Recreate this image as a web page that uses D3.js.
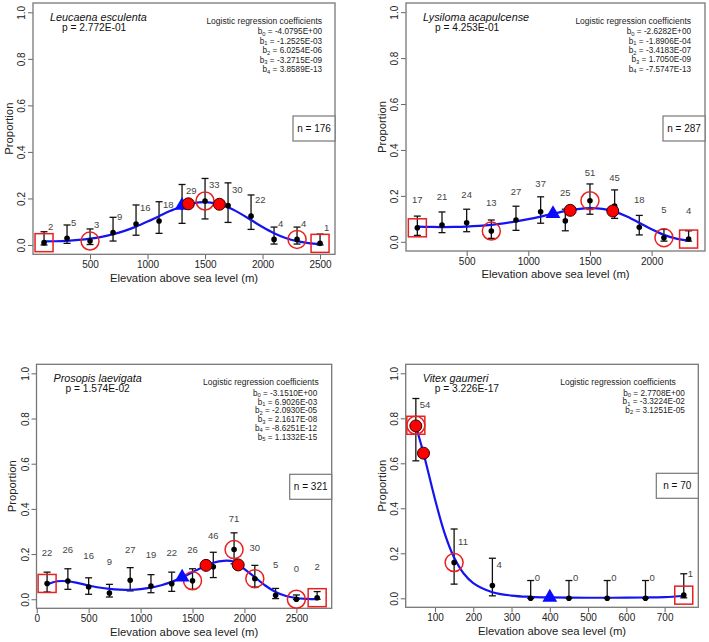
<!DOCTYPE html>
<html>
<head>
<meta charset="utf-8">
<script src="https://cdn.jsdelivr.net/npm/d3@7"></script>
<style>
  body { margin: 0; background: #fff; }
  svg { font-family: "Liberation Sans", Arial, sans-serif; }
</style>
</head>
<body>
<svg id="chart" width="709" height="642"></svg>
<script>
// ---- Leucaena esculenta ----
const leucaenaElev = [100, 300, 500, 700, 900, 1100, 1300, 1500, 1700, 1900, 2100, 2300, 2500];
const leucaenaProp = [0.010, 0.029, 0.017, 0.053, 0.090, 0.103, 0.165, 0.189, 0.169, 0.124, 0.024, 0.024, 0.007];
const leucaenaLow = [0.0, 0.007, 0.002, 0.017, 0.042, 0.050, 0.093, 0.112, 0.097, 0.067, 0.004, 0.004, 0.0];
const leucaenaHigh = [0.057, 0.086, 0.069, 0.119, 0.172, 0.186, 0.260, 0.286, 0.267, 0.215, 0.077, 0.077, 0.047];
const leucaenaN = [2, 5, 3, 9, 16, 18, 29, 33, 30, 22, 4, 4, 1];
const leucaenaCurveX = [100, 200, 300, 400, 500, 600, 700, 800, 900, 1000, 1100, 1200, 1300, 1400, 1500, 1600, 1700, 1800, 1900, 2000, 2100, 2200, 2300, 2400, 2500];
const leucaenaCurveY = [0.0156, 0.0161, 0.018, 0.0216, 0.027, 0.0349, 0.046, 0.0605, 0.0789, 0.1005, 0.124, 0.1469, 0.1666, 0.1798, 0.184, 0.178, 0.1618, 0.137, 0.1074, 0.0772, 0.0507, 0.0303, 0.0164, 0.0081, 0.0037];
const leucaenaCoef = ["-4.0795E+00", "-1.2525E-03", "6.0254E-06", "-3.2715E-09", "3.8589E-13"];
const leucaenaTriangle = [1300, 0.170];
const leucaenaRedDots = [[1355, 0.177], [1625, 0.175]];
const leucaenaRings = [500, 1500, 2300];
const leucaenaSquares = [100, 2500];
const leucaenaTicks = [500, 1000, 1500, 2000, 2500];

// ---- Lysiloma acapulcense ----
const lysilomaElev = [100, 300, 500, 700, 900, 1100, 1300, 1500, 1700, 1900, 2100, 2300];
const lysilomaProp = [0.061, 0.073, 0.083, 0.047, 0.095, 0.131, 0.091, 0.179, 0.156, 0.063, 0.018, 0.012];
const lysilomaLow = [0.028, 0.040, 0.044, 0.015, 0.050, 0.081, 0.048, 0.120, 0.102, 0.030, 0.003, 0.003];
const lysilomaHigh = [0.112, 0.130, 0.142, 0.095, 0.155, 0.196, 0.142, 0.252, 0.226, 0.115, 0.054, 0.048];
const lysilomaN = [17, 21, 24, 13, 27, 37, 25, 51, 45, 18, 5, 4];
const lysilomaCurveX = [100, 200, 300, 400, 500, 600, 700, 800, 900, 1000, 1100, 1200, 1300, 1400, 1500, 1600, 1700, 1800, 1900, 2000, 2100, 2200, 2300];
const lysilomaCurveY = [0.066, 0.065, 0.0644, 0.0648, 0.0665, 0.0695, 0.0741, 0.0805, 0.0887, 0.0987, 0.110, 0.1222, 0.1336, 0.1425, 0.1466, 0.1435, 0.1316, 0.1106, 0.0833, 0.0545, 0.0301, 0.0136, 0.0049];
const lysilomaCoef = ["-2.6282E+00", "-1.8906E-04", "-3.4183E-07", "1.7050E-09", "-7.5747E-13"];
const lysilomaTriangle = [1200, 0.122];
const lysilomaRedDots = [[1340, 0.137], [1685, 0.134]];
const lysilomaRings = [700, 1500, 2100];
const lysilomaSquares = [100, 2300];
const lysilomaTicks = [500, 1000, 1500, 2000];

// ---- Prosopis laevigata ----
const prosopisElev = [100, 300, 500, 700, 900, 1100, 1300, 1500, 1700, 1900, 2100, 2300, 2500, 2700];
const prosopisProp = [0.070, 0.081, 0.054, 0.028, 0.084, 0.059, 0.069, 0.082, 0.144, 0.220, 0.091, 0.018, 0.0, 0.007];
const prosopisLow = [0.032, 0.044, 0.022, 0.010, 0.037, 0.029, 0.035, 0.044, 0.096, 0.157, 0.054, 0.003, 0.0, 0.0];
const prosopisHigh = [0.120, 0.135, 0.095, 0.066, 0.140, 0.109, 0.120, 0.135, 0.208, 0.294, 0.150, 0.048, 0.019, 0.034];
const prosopisN = [22, 26, 16, 9, 27, 19, 22, 26, 46, 71, 30, 5, 0, 2];
const prosopisCurveX = [100, 200, 300, 400, 500, 600, 700, 800, 900, 1000, 1100, 1200, 1300, 1400, 1500, 1600, 1700, 1800, 1900, 2000, 2100, 2200, 2300, 2400, 2500, 2600, 2700];
const prosopisCurveY = [0.066, 0.0796, 0.0797, 0.0715, 0.061, 0.0519, 0.0456, 0.0424, 0.0422, 0.0451, 0.0515, 0.0619, 0.077, 0.0969, 0.120, 0.1431, 0.1617, 0.1703, 0.1661, 0.1336, 0.0976, 0.0609, 0.032, 0.0143, 0.0055, 0.0019, 0.0006];
const prosopisCoef = ["-3.1510E+00", "6.9026E-03", "-2.0930E-05", "2.1617E-08", "-8.6251E-12", "1.1332E-15"];
const prosopisTriangle = [1400, 0.097];
const prosopisRedDots = [[1630, 0.150], [1940, 0.152]];
const prosopisRings = [1500, 1900, 2100, 2500];
const prosopisSquares = [100, 2700];
const prosopisTicks = [0, 500, 1000, 1500, 2000, 2500];

// ---- Vitex gaumeri ----
const vitexElev = [50, 150, 250, 350, 450, 550, 650, 750];
const vitexProp = [0.769, 0.159, 0.057, 0, 0, 0, 0, 0.014];
const vitexLow = [0.611, 0.063, 0.011, 0, 0, 0, 0, 0.002];
const vitexHigh = [0.888, 0.308, 0.178, 0.079, 0.079, 0.079, 0.079, 0.109];
const vitexN = [54, 11, 4, 0, 0, 0, 0, 1];
const vitexCurveX = [50, 70, 100, 125, 150, 175, 200, 250, 300, 350, 400, 450, 500, 550, 600, 650, 700, 750];
const vitexCurveY = [0.766, 0.645, 0.4405, 0.290, 0.181, 0.110, 0.0676, 0.0271, 0.0123, 0.0065, 0.004, 0.0029, 0.0024, 0.0024, 0.0027, 0.0036, 0.0056, 0.0103];
const vitexCoef = ["2.7708E+00", "-3.3224E-02", "3.1251E-05"];
const vitexTriangle = [400, 0.004];
const vitexRedDots = [[50, 0.766], [70, 0.645]];
const vitexRings = [50, 150];
const vitexSquares = [50, 750];
const vitexTicks = [100, 200, 300, 400, 500, 600, 700];

const yTicks = [0, 0.2, 0.4, 0.6, 0.8, 1.0];

const panels = [
  { name: "Leucaena esculenta", p: "p = 2.772E-01", n: "n = 176", coef: leucaenaCoef,
    elev: leucaenaElev, prop: leucaenaProp, low: leucaenaLow, high: leucaenaHigh, counts: leucaenaN,
    cx: leucaenaCurveX, cy: leucaenaCurveY, tri: leucaenaTriangle, dots: leucaenaRedDots,
    rings: leucaenaRings, squares: leucaenaSquares, ticks: leucaenaTicks,
    box: [33, 3, 335, 254.3], xDomain: [4, 2630], labelMode: "right", labelOff: 16,
    titleRight: 13, coefRight: 13, coefGap: 9.4, nTop: 113 },
  { name: "Lysiloma acapulcense", p: "p = 4.253E-01", n: "n = 287", coef: lysilomaCoef,
    elev: lysilomaElev, prop: lysilomaProp, low: lysilomaLow, high: lysilomaHigh, counts: lysilomaN,
    cx: lysilomaCurveX, cy: lysilomaCurveY, tri: lysilomaTriangle, dots: lysilomaRedDots,
    rings: lysilomaRings, squares: lysilomaSquares, ticks: lysilomaTicks,
    box: [406, 3, 705, 251], xDomain: [8, 2433], labelMode: "above", labelOff: 28,
    titleRight: 14, coefRight: 14, coefGap: 9.3, nTop: 113 },
  { name: "Prosopis laevigata", p: "p = 1.574E-02", n: "n = 321", coef: prosopisCoef,
    elev: prosopisElev, prop: prosopisProp, low: prosopisLow, high: prosopisHigh, counts: prosopisN,
    cx: prosopisCurveX, cy: prosopisCurveY, tri: prosopisTriangle, dots: prosopisRedDots,
    rings: prosopisRings, squares: prosopisSquares, ticks: prosopisTicks,
    box: [36.5, 364.3, 331.7, 608.3], xDomain: [-2, 2840], labelMode: "above", labelOff: 31,
    titleRight: 13, coefRight: 14.5, coefGap: 8.8, nTop: 110 },
  { name: "Vitex gaumeri", p: "p = 3.226E-17", n: "n = 70", coef: vitexCoef,
    elev: vitexElev, prop: vitexProp, low: vitexLow, high: vitexHigh, counts: vitexN,
    cx: vitexCurveX, cy: vitexCurveY, tri: vitexTriangle, dots: vitexRedDots,
    rings: vitexRings, squares: vitexSquares, ticks: vitexTicks,
    box: [405.7, 364.3, 698.3, 607.3], xDomain: [23.5, 788], labelMode: "right", labelOff: 21,
    titleRight: 22.5, coefRight: 13.5, coefGap: 8.6, nTop: 109 }
];

const svg = d3.select("#chart");

panels.forEach((pn) => {
  const [x0, y0, x1, y1] = pn.box;
  const x = d3.scaleLinear().domain(pn.xDomain).range([x0, x1]);
  const y = d3.scaleLinear().domain([-0.04, 1.04]).range([y1, y0]);
  const g = svg.append("g");

  // axes
  const xAxis = g.append("g")
    .attr("transform", `translate(0,${y1})`)
    .call(d3.axisBottom(x).tickValues(pn.ticks).tickSize(5).tickFormat(d3.format("d")));
  xAxis.select(".domain").remove();
  xAxis.selectAll("line").attr("stroke", "#666");
  xAxis.selectAll("text").attr("y", 10.5).attr("dy", "0.35em")
    .attr("font-size", 10).attr("fill", "#222").attr("font-family", null);

  const yAxis = g.append("g")
    .attr("transform", `translate(${x0},0)`)
    .call(d3.axisLeft(y).tickValues(yTicks).tickSize(5).tickFormat(d3.format(".1f")));
  yAxis.select(".domain").remove();
  yAxis.selectAll("line").attr("stroke", "#666");
  yAxis.selectAll("text")
    .attr("transform", "rotate(-90)")
    .attr("x", 0).attr("y", -11.5).attr("dy", "0.35em")
    .attr("text-anchor", "middle")
    .attr("font-size", 10).attr("fill", "#222").attr("font-family", null);

  g.append("rect")
    .attr("x", x0).attr("y", y0)
    .attr("width", x1 - x0).attr("height", y1 - y0)
    .attr("fill", "none").attr("stroke", "#777").attr("stroke-width", 1.3);

  g.append("text")
    .attr("x", (x0 + x1) / 2).attr("y", y1 + 23.3).attr("dy", "0.35em")
    .attr("text-anchor", "middle").attr("font-size", 11.3).attr("fill", "#222")
    .text("Elevation above sea level (m)");

  g.append("text")
    .attr("transform", `translate(${x0 - 24},${(y0 + y1) / 2}) rotate(-90)`)
    .attr("dy", "0.35em")
    .attr("text-anchor", "middle").attr("font-size", 11.3).attr("fill", "#222")
    .text("Proportion");

  // error bars
  const bars = g.append("g").attr("stroke", "#111").attr("stroke-width", 1.3);
  pn.elev.forEach((e, i) => {
    const xe = x(e);
    bars.append("line").attr("x1", xe).attr("x2", xe).attr("y1", y(pn.low[i])).attr("y2", y(pn.high[i]));
    bars.append("line").attr("x1", xe - 3.5).attr("x2", xe + 3.5).attr("y1", y(pn.high[i])).attr("y2", y(pn.high[i]));
    bars.append("line").attr("x1", xe - 3.5).attr("x2", xe + 3.5).attr("y1", y(pn.low[i])).attr("y2", y(pn.low[i]));
  });

  // fitted curve
  const line = d3.line()
    .x((d) => x(d[0]))
    .y((d) => y(d[1]))
    .curve(d3.curveCatmullRom);
  g.append("path")
    .datum(pn.cx.map((v, i) => [v, pn.cy[i]]))
    .attr("d", line)
    .attr("fill", "none").attr("stroke", "#1414f0").attr("stroke-width", 2.2);

  // observed proportions
  g.selectAll(".pt")
    .data(pn.elev)
    .enter()
    .append("circle")
    .attr("cx", (d) => x(d))
    .attr("cy", (d, i) => y(pn.prop[i]))
    .attr("r", 2.8)
    .attr("fill", "#000");

  // sample size labels
  g.selectAll(".cnt")
    .data(pn.counts)
    .enter()
    .append("text")
    .attr("x", (d, i) => x(pn.elev[i]) + (pn.labelMode === "right" ? 4 : 0))
    .attr("y", (d, i) => y(pn.prop[i]) - pn.labelOff)
    .attr("dy", "0.35em")
    .attr("text-anchor", pn.labelMode === "right" ? "start" : "middle")
    .attr("font-size", 9.5).attr("fill", "#444")
    .text((d) => d);

  const propAt = (e) => pn.prop[pn.elev.indexOf(e)];

  g.selectAll(".sq")
    .data(pn.squares)
    .enter()
    .append("rect")
    .attr("x", (d) => x(d) - 9).attr("y", (d) => y(propAt(d)) - 9)
    .attr("width", 18).attr("height", 18)
    .attr("fill", "none").attr("stroke", "#e82020").attr("stroke-width", 1.5);

  g.selectAll(".ring")
    .data(pn.rings)
    .enter()
    .append("circle")
    .attr("cx", (d) => x(d)).attr("cy", (d) => y(propAt(d)))
    .attr("r", 9)
    .attr("fill", "none").attr("stroke", "#e82020").attr("stroke-width", 1.5);

  g.append("path")
    .attr("d", d3.symbol(d3.symbolTriangle, 95)())
    .attr("transform", `translate(${x(pn.tri[0])},${y(pn.tri[1])})`)
    .attr("fill", "#0a0aff");

  g.selectAll(".dot")
    .data(pn.dots)
    .enter()
    .append("circle")
    .attr("cx", (d) => x(d[0])).attr("cy", (d) => y(d[1]))
    .attr("r", 6)
    .attr("fill", "#f00").attr("stroke", "#300").attr("stroke-width", 1);

  // species name and p-value
  g.append("text")
    .attr("x", x0 + 17).attr("y", y0 + 14).attr("dy", "0.35em")
    .attr("font-size", 10.8).attr("font-style", "italic").attr("fill", "#111")
    .text(pn.name);
  g.append("text")
    .attr("x", x0 + 29).attr("y", y0 + 24.5).attr("dy", "0.35em")
    .attr("font-size", 10.2).attr("fill", "#111")
    .text(pn.p);

  // coefficient block
  g.append("text")
    .attr("x", x1 - pn.titleRight).attr("y", y0 + 18).attr("dy", "0.35em")
    .attr("text-anchor", "end").attr("font-size", 8.5).attr("fill", "#222")
    .text("Logistic regression coefficients");
  pn.coef.forEach((c, i) => {
    const t = g.append("text")
      .attr("x", x1 - pn.coefRight).attr("y", y0 + 29 + i * pn.coefGap).attr("dy", "0.3em")
      .attr("text-anchor", "end").attr("font-size", 8.2).attr("fill", "#222");
    t.append("tspan").text("b");
    t.append("tspan").attr("dy", 1.5).attr("font-size", 5.8).text(i);
    t.append("tspan").attr("dy", -1.5).text(" = " + c);
  });

  // n box
  g.append("rect")
    .attr("x", x1 - 42).attr("y", y0 + pn.nTop)
    .attr("width", 42).attr("height", 25)
    .attr("fill", "#fff").attr("stroke", "#777").attr("stroke-width", 1.2);
  g.append("text")
    .attr("x", x1 - 21).attr("y", y0 + pn.nTop + 12.5).attr("dy", "0.35em")
    .attr("text-anchor", "middle").attr("font-size", 10).attr("fill", "#111")
    .text(pn.n);
});
</script>
</body>
</html>
